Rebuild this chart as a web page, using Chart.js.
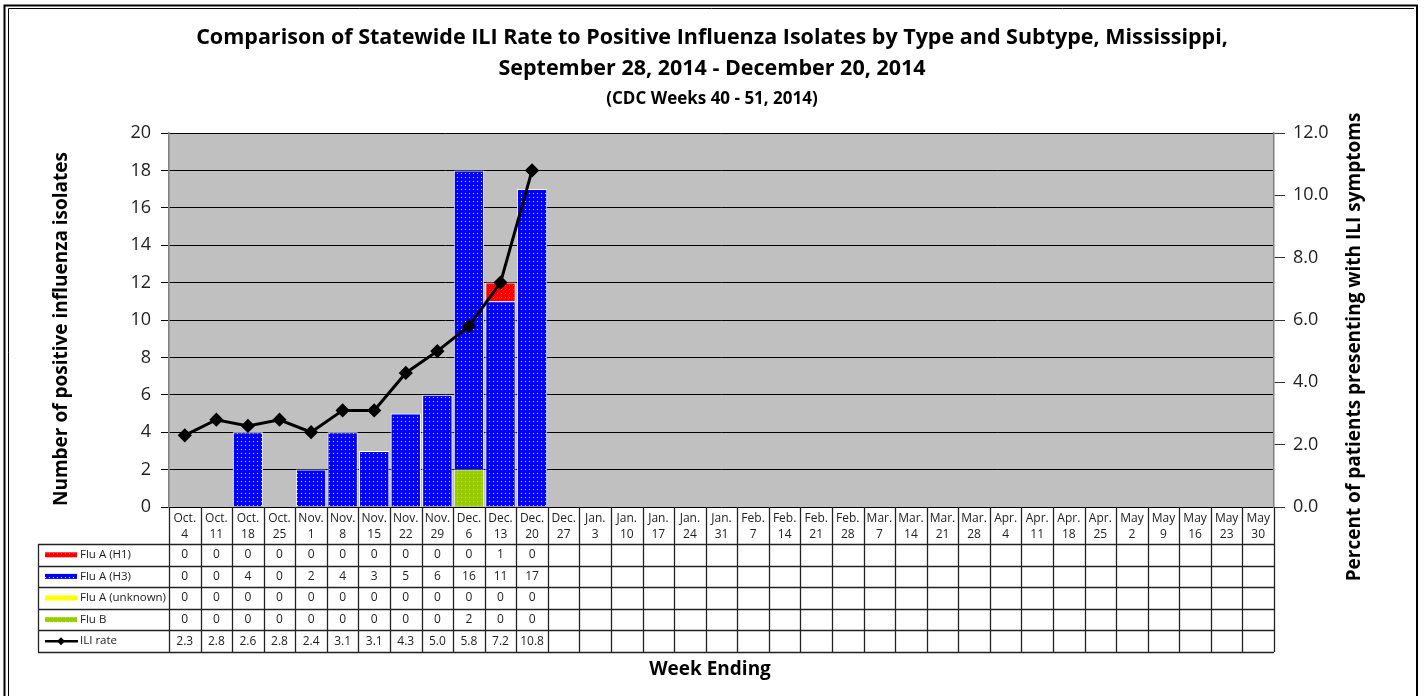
<!DOCTYPE html>
<html lang="en">
<head>
<meta charset="UTF-8">
<title>Statewide ILI Rate vs Positive Influenza Isolates</title>
<script src="https://cdn.jsdelivr.net/npm/chart.js"></script>
<style>
  html, body { margin: 0; padding: 0; background: #fff; }
  #fluChart { display: block; }
</style>
</head>
<body>
<canvas id="fluChart" width="1424" height="696"></canvas>
<script>
// week ending labels (two lines each)
const weeks = [
  ["Oct.","4"],["Oct.","11"],["Oct.","18"],["Oct.","25"],
  ["Nov.","1"],["Nov.","8"],["Nov.","15"],["Nov.","22"],["Nov.","29"],
  ["Dec.","6"],["Dec.","13"],["Dec.","20"],["Dec.","27"],
  ["Jan.","3"],["Jan.","10"],["Jan.","17"],["Jan.","24"],["Jan.","31"],
  ["Feb.","7"],["Feb.","14"],["Feb.","21"],["Feb.","28"],
  ["Mar.","7"],["Mar.","14"],["Mar.","21"],["Mar.","28"],
  ["Apr.","4"],["Apr.","11"],["Apr.","18"],["Apr.","25"],
  ["May","2"],["May","9"],["May","16"],["May","23"],["May","30"]
];
const fluAH1      = [0,0,0,0,0,0,0,0,0,0,1,0];
const fluAH3      = [0,0,4,0,2,4,3,5,6,16,11,17];
const fluAUnknown = [0,0,0,0,0,0,0,0,0,0,0,0];
const fluB        = [0,0,0,0,0,0,0,0,0,2,0,0];
const iliRate     = [2.3,2.8,2.6,2.8,2.4,3.1,3.1,4.3,5.0,5.8,7.2,10.8];

const FONT = "'Open Sans', 'DejaVu Sans', sans-serif";

// little dotted fill like the excel pattern
function dotted(base, dot) {
  const c = document.createElement('canvas');
  c.width = 4; c.height = 4;
  const g = c.getContext('2d');
  g.fillStyle = base; g.fillRect(0, 0, 4, 4);
  g.fillStyle = dot; g.fillRect(1, 1, 1, 1);
  return g.createPattern(c, 'repeat');
}
const redFill    = dotted('#ff0000', '#ff5050');
const blueFill   = dotted('#0000ff', '#e8e8ff');
const yellowFill = dotted('#ffff00', '#ffffa0');
const greenFill  = dotted('#99cc00', '#c0e040');

const tableRows = [
  { label: 'Flu A (H1)',        data: fluAH1,      key: redFill },
  { label: 'Flu A (H3)',        data: fluAH3,      key: blueFill },
  { label: 'Flu A (unknown)',   data: fluAUnknown, key: yellowFill },
  { label: 'Flu B',             data: fluB,        key: greenFill },
  { label: 'ILI rate',          data: iliRate.map(v => v.toFixed(1)), key: null }
];

const framePlugin = {
  id: 'frame',
  beforeDraw(chart) {
    const { ctx, chartArea: a } = chart;
    ctx.save();
    ctx.fillStyle = '#fff';
    ctx.fillRect(0, 0, chart.width, chart.height);
    ctx.fillStyle = '#c0c0c0';
    ctx.fillRect(a.left, a.top, a.right - a.left, a.bottom - a.top);
    ctx.restore();
  },
  afterDraw(chart) {
    const { ctx, chartArea: a, scales: { x } } = chart;
    ctx.save();
    // picture frame
    ctx.strokeStyle = '#000';
    ctx.lineWidth = 2;
    ctx.beginPath();
    ctx.moveTo(4.5, 700); ctx.lineTo(4.5, 5.5); ctx.lineTo(1417, 5.5); ctx.lineTo(1417, 700);
    ctx.stroke();
    ctx.lineWidth = 1;
    ctx.beginPath();
    ctx.moveTo(8.5, 700); ctx.lineTo(8.5, 8.5); ctx.lineTo(1414, 8.5);
    ctx.stroke();

    // axis titles
    ctx.fillStyle = '#000';
    ctx.font = "bold 19px " + FONT;
    ctx.textAlign = 'center';
    ctx.textBaseline = 'middle';
    ctx.save();
    ctx.translate(62, 329); ctx.rotate(-Math.PI / 2);
    ctx.fillText('Number of positive influenza isolates', 0, 0);
    ctx.restore();
    ctx.save();
    ctx.translate(1355, 347); ctx.rotate(-Math.PI / 2);
    ctx.fillText('Percent of patients presenting with ILI symptoms', 0, 0);
    ctx.restore();
    ctx.fillText('Week Ending', 710, 670);

    // data table under the axis
    const n = weeks.length;
    const step = (a.right - a.left) / n;
    const headBottom = a.bottom + 37;
    const rowH = 21.6;
    const tableBottom = headBottom + rowH * tableRows.length;
    const legLeft = 38;

    ctx.strokeStyle = '#222';
    ctx.lineWidth = 1.3;
    ctx.beginPath();
    for (let i = 0; i <= n; i++) {
      const xx = Math.round(a.left + i * step) + 0.5;
      ctx.moveTo(xx, a.bottom); ctx.lineTo(xx, tableBottom);
    }
    for (let r = 0; r <= tableRows.length; r++) {
      const yy = Math.round(headBottom + r * rowH) + 0.5;
      ctx.moveTo(legLeft, yy); ctx.lineTo(a.right, yy);
    }
    ctx.moveTo(legLeft + 0.5, headBottom); ctx.lineTo(legLeft + 0.5, tableBottom);
    ctx.stroke();

    tableRows.forEach((row, r) => {
      const cy = headBottom + r * rowH + rowH / 2;
      // legend key
      if (row.key) {
        ctx.fillStyle = row.key;
        ctx.fillRect(45, cy - 2.5, 32, 5);
      } else {
        ctx.strokeStyle = '#000';
        ctx.lineWidth = 2.5;
        ctx.beginPath(); ctx.moveTo(45, cy); ctx.lineTo(78, cy); ctx.stroke();
        ctx.fillStyle = '#000';
        ctx.beginPath();
        ctx.moveTo(61, cy - 4); ctx.lineTo(65, cy); ctx.lineTo(61, cy + 4); ctx.lineTo(57, cy);
        ctx.closePath(); ctx.fill();
      }
      ctx.fillStyle = '#222';
      ctx.font = "11.5px " + FONT;
      ctx.textAlign = 'left';
      ctx.fillText(row.label, 80, cy);
      ctx.font = "12px " + FONT;
      ctx.textAlign = 'center';
      row.data.forEach((v, i) => {
        ctx.fillText(String(v), x.getPixelForValue(i), cy);
      });
    });
    ctx.restore();
  }
};

new Chart(document.getElementById('fluChart'), {
  type: 'bar',
  data: {
    labels: weeks,
    datasets: [
      { label: 'ILI rate', type: 'line', data: iliRate, yAxisID: 'y1', order: 0,
        borderColor: '#000', backgroundColor: '#000', borderWidth: 3, tension: 0,
        pointStyle: 'rectRot', pointRadius: 5, pointHoverRadius: 5 },
      { label: 'Flu B', data: fluB, backgroundColor: greenFill, order: 1 },
      { label: 'Flu A (unknown)', data: fluAUnknown, backgroundColor: yellowFill, order: 1 },
      { label: 'Flu A (H3)', data: fluAH3, backgroundColor: blueFill, order: 1 },
      { label: 'Flu A (H1)', data: fluAH1, backgroundColor: redFill, order: 1 }
    ]
  },
  options: {
    responsive: false,
    animation: false,
    devicePixelRatio: 1,
    layout: { padding: 0 },
    datasets: {
      bar: { barPercentage: 0.96, categoryPercentage: 1, borderColor: '#fff', borderWidth: 1, borderSkipped: 'start' }
    },
    plugins: {
      legend: { display: false },
      tooltip: { enabled: false },
      title: {
        display: true,
        text: ['Comparison of Statewide ILI Rate to Positive Influenza Isolates by Type and Subtype, Mississippi,',
               'September 28, 2014 - December 20, 2014'],
        color: '#000',
        font: { family: FONT, size: 21.5, weight: 'bold', lineHeight: '31px' },
        padding: { top: 22, bottom: 0 }
      },
      subtitle: {
        display: true,
        text: '(CDC Weeks 40 - 51, 2014)',
        color: '#000',
        font: { family: FONT, size: 17, weight: 'bold', lineHeight: '22px' },
        padding: { top: 4, bottom: 23 }
      }
    },
    scales: {
      x: {
        stacked: true,
        grid: { display: false, drawTicks: false, tickLength: 0 },
        border: { display: false },
        ticks: { color: '#222', font: { family: FONT, size: 12, lineHeight: '16px' }, padding: 4, maxRotation: 0, autoSkip: false },
        afterFit(scale) { scale.height = 189; }
      },
      y: {
        stacked: true,
        position: 'left',
        min: 0, max: 20,
        ticks: { stepSize: 2, color: '#222', font: { family: FONT, size: 18 }, padding: 10 },
        grid: { color: '#000', lineWidth: 1, tickLength: 8 },
        border: { color: '#808080', width: 1.5 },
        afterFit(scale) { scale.width = 169; }
      },
      y1: {
        position: 'right',
        min: 0, max: 12,
        ticks: { stepSize: 2, color: '#222', font: { family: FONT, size: 18 }, padding: 8,
                 callback: v => v.toFixed(1) },
        grid: { drawOnChartArea: false, color: '#333', tickLength: 11 },
        border: { color: '#808080', width: 1.5 },
        afterFit(scale) { scale.width = 150; }
      }
    }
  },
  plugins: [framePlugin]
});
</script>
</body>
</html>
